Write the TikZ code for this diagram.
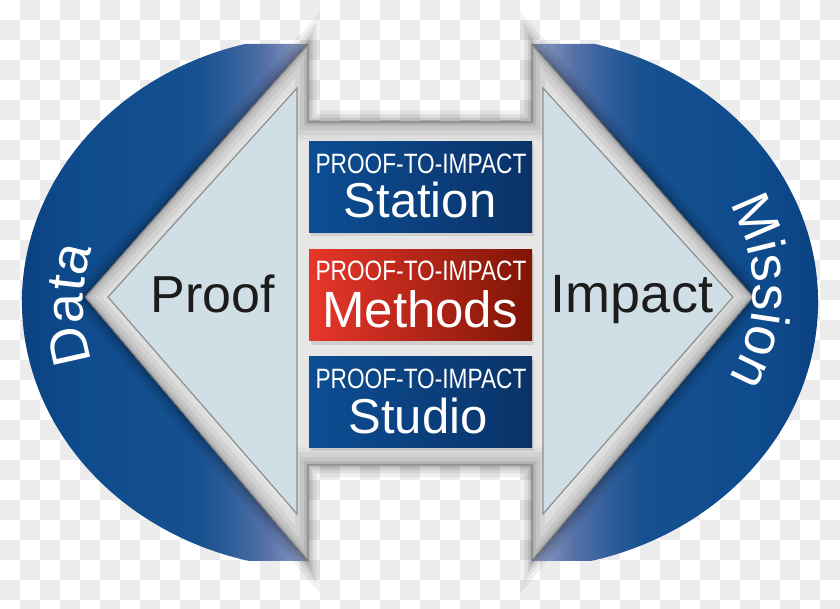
\documentclass[tikz,border=0pt]{standalone}
\usepackage{fontspec}
\setmainfont{Liberation Sans}
\usepackage{graphicx}
\usetikzlibrary{decorations.text,shadows}
\definecolor{checkgray}{HTML}{ECECEC}
\definecolor{bA}{HTML}{062E64}
\definecolor{bB}{HTML}{0B3F7F}
\definecolor{bC}{HTML}{0E4B8D}
\definecolor{bD}{HTML}{16508F}
\definecolor{bE}{HTML}{2E5D9A}
\definecolor{bF}{HTML}{5671A8}
\definecolor{bG}{HTML}{8093BD}
\definecolor{bH}{HTML}{B6C7DA}
\definecolor{bandgray}{HTML}{E6E6E6}
\definecolor{g1}{HTML}{DEDEDE}
\definecolor{g2}{HTML}{D2D2D2}
\definecolor{g3}{HTML}{C5C5C5}
\definecolor{g4}{HTML}{B6B6B6}
\definecolor{g5}{HTML}{A4A4A4}
\definecolor{edgegray}{HTML}{707070}
\definecolor{tri}{HTML}{D0DEE6}
\definecolor{triedge}{HTML}{8E8E8E}
\definecolor{boxbL}{HTML}{0C4E93}
\definecolor{boxbR}{HTML}{0A3268}
\definecolor{boxrL}{HTML}{E8362A}
\definecolor{boxrR}{HTML}{7F1506}
\definecolor{ink}{HTML}{1C1C1C}
\pgfdeclarehorizontalshading{blueL}{100bp}{color(0bp)=(bA); color(25bp)=(bA); color(28bp)=(bB); color(38bp)=(bC); color(56bp)=(bD); color(61bp)=(bE); color(66.6bp)=(bF); color(71bp)=(bG); color(75bp)=(bH); color(100bp)=(bH)}
\pgfdeclarehorizontalshading{blueR}{100bp}{color(0bp)=(bH); color(25bp)=(bH); color(29bp)=(bG); color(33.4bp)=(bF); color(39bp)=(bE); color(44bp)=(bD); color(62bp)=(bC); color(72bp)=(bB); color(75bp)=(bA); color(100bp)=(bA)}
\newcommand\bigtxt{\fontsize{54}{54}\selectfont}
\newcommand\outerpoly{(308,44) -- (308,122) -- (532,122) -- (532,44) -- (753,297) -- (532,561) -- (532,465) -- (308,465) -- (308,561) -- (85,297) -- cycle}
\begin{document}
\begin{tikzpicture}[x=1pt,y=-1pt,
  pbox/.style={rectangle, draw=none, inner sep=0pt, minimum width=223pt, minimum height=91pt,
    drop shadow={opacity=0.22, shadow xshift=2pt, shadow yshift=-4pt}},
  toptext/.style={anchor=base, inner sep=0pt, text=white, font=\fontsize{28}{28}\selectfont},
  bigword/.style={anchor=base, inner sep=0pt, text=white, font=\fontsize{49}{49}\selectfont},
  sideword/.style={anchor=base, inner sep=0pt, text=ink}]
\useasboundingbox (0,0) rectangle (840,608);
\fill[white] (0,0) rectangle (840,608);
\begin{scope}
\clip (0,0) rectangle (840,608);
\foreach \i in {0,...,41}{\foreach \j in {0,...,30}{\pgfmathtruncatemacro\k{mod(\i+\j,2)}\ifnum\k=1\relax\fill[checkgray] (\i*20,\j*20) rectangle ++(20,20);\fi}}
\end{scope}
% blue truncated ellipses
\shade[shading=blueL] (322,302) ++(255.1:300 and 267) arc[start angle=255.1, end angle=104.1, x radius=300, y radius=267] -- (308,561) -- (308,44) -- cycle;
\shade[shading=blueR] (518,302) ++(-75.1:300 and 267) arc[start angle=-75.1, end angle=75.9, x radius=300, y radius=267] -- (532,561) -- (532,44) -- cycle;
% arrow shadow
\foreach \w/\o in {24/0.05,16/0.07,9/0.09,4/0.1}{\draw[line width=\w pt, black, opacity=\o, line join=miter] \outerpoly;}
% arrow body
\fill[bandgray] \outerpoly;
\begin{scope}
\clip \outerpoly;
\foreach \w/\c in {36/g1,26/g2,16/g3,8/g4,3/g5}{\draw[line width=\w pt, draw=\c, line join=miter] \outerpoly;}
\end{scope}
\draw[line width=0.8pt, draw=edgegray, line join=miter] \outerpoly;
% inner triangles
\filldraw[fill=tri, draw=triedge, line width=1.2pt, line join=miter] (297,88) -- (108,297) -- (297,514) -- cycle;
\filldraw[fill=tri, draw=triedge, line width=1.2pt, line join=miter] (543,88) -- (733,297) -- (543,514) -- cycle;
% boxes
\node[pbox, left color=boxbL, right color=boxbR] (station) at (420.5,186.5) {};
\node[pbox, left color=boxrL, right color=boxrR] (methods) at (420.5,295) {};
\node[pbox, left color=boxbL, right color=boxbR] (studio) at (420.5,401.5) {};
\node[toptext] (t1) at (421,173) {\scalebox{0.81}[1]{PROOF-TO-IMPACT}};
\node[bigword] (w1) at (420,217) {Station};
\node[toptext] (t2) at (421,280) {\scalebox{0.81}[1]{PROOF-TO-IMPACT}};
\node[bigword, font=\fontsize{51}{51}\selectfont] (w2) at (420,327) {Methods};
\node[toptext] (t3) at (421,388) {\scalebox{0.81}[1]{PROOF-TO-IMPACT}};
\node[bigword] (w3) at (418,433) {Studio};
\node[sideword, font=\fontsize{52}{52}\selectfont] (proof) at (212.5,312) {Proof};
\node[sideword, font=\fontsize{54}{54}\selectfont] (impact) at (632,312) {Impact};
% curved side words
\path[decorate, decoration={text along path, text align=center, text color=white, text={|\bigtxt|Data}}]
  (253,305) ++(132:170) arc[start angle=132, end angle=228, radius=170];
\path[decorate, decoration={text along path, text align=center, text color=white, text={|\bigtxt|Mission}}]
  (583,291) ++(-48:170) arc[start angle=-48, end angle=48, radius=170];
\end{tikzpicture}
\end{document}
